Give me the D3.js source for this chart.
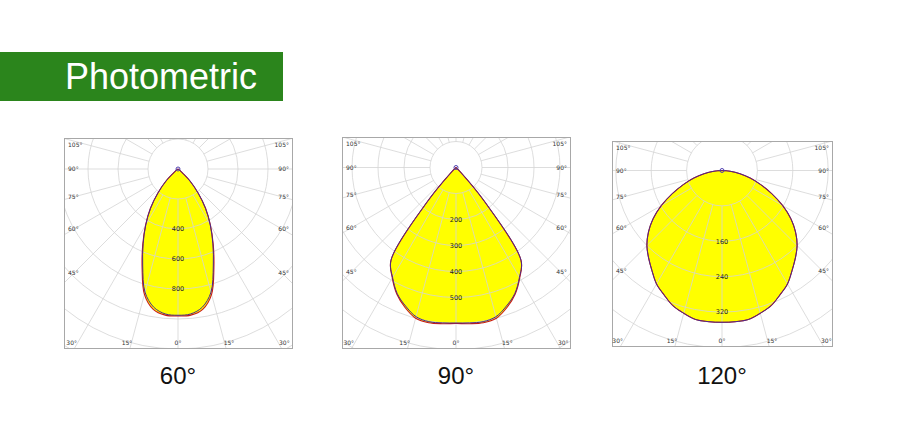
<!DOCTYPE html>
<html>
<head>
<meta charset="utf-8">
<script src="https://cdn.jsdelivr.net/npm/d3@7"></script>
<style>
  body { margin: 0; background: #fff; }
  svg { display: block; }
</style>
</head>
<body>
<div id="chart"></div>
<script>
// gamma angles (deg from nadir), shared by every curve
const angles = [0, 5, 10, 15, 20, 25, 30, 35, 40, 45, 50, 55, 60, 65, 70, 75, 80, 85, 90];

// luminous intensity (cd)
const beam60Red  = [980, 978, 950, 865, 700, 556, 432, 320, 207, 113, 27, 8, 0, 0, 0, 0, 0, 0, 0];
const beam60Blue = [975, 970, 935, 850, 688, 550, 430, 320, 207, 113, 27, 8, 0, 0, 0, 0, 0, 0, 0];
const beam90Red  = [600, 603, 606, 600, 573, 538, 490, 436, 172, 22, 0, 0, 0, 0, 0, 0, 0, 0, 0];
const beam90Blue = [598, 600, 602, 594, 567, 535, 488, 436, 172, 22, 0, 0, 0, 0, 0, 0, 0, 0, 0];
const beam120Red  = [343, 343, 342, 334, 325, 310, 296, 276, 258, 240, 217, 190, 158, 124, 93, 66, 41, 18, 0];
const beam120Blue = [343, 343, 342, 334, 325, 310, 296, 276, 258, 240, 217, 190, 158, 124, 93, 66, 41, 18, 0];

// ring value labels and ring spacing (cd per ring)
const ringLabels60 = [400, 600, 800];
const ringLabels90 = [200, 300, 400, 500];
const ringLabels120 = [160, 240, 320];
const ringSteps = [200, 100, 80];

const sideAngles = [105, 90, 75, 60, 45];
const bottomAngles = [-30, -15, 0, 15, 30];
const beamTitles = ["60°", "90°", "120°"];

const width = 900, height = 433;

const svg = d3.select("#chart").append("svg")
    .attr("width", width)
    .attr("height", height);

// header bar
svg.append("rect")
    .attr("x", 0).attr("y", 52)
    .attr("width", 283).attr("height", 49)
    .attr("fill", "#2b851c");
svg.append("text")
    .attr("x", 65).attr("y", 89)
    .attr("font-family", "Liberation Sans, Arial, sans-serif")
    .attr("font-size", 36)
    .attr("fill", "#fff")
    .text("Photometric");

const panels = [
    { x: 64, y: 138, w: 228, h: 210, cy: 169, ringPx: 30, red: beam60Red, blue: beam60Blue, labels: ringLabels60 },
    { x: 342, y: 137, w: 228, h: 211, cy: 167.5, ringPx: 26, red: beam90Red, blue: beam90Blue, labels: ringLabels90 },
    { x: 612, y: 141, w: 220, h: 205, cy: 170.5, ringPx: 35.4, red: beam120Red, blue: beam120Blue, labels: ringLabels120 }
];

const rad = d => d * Math.PI / 180;

panels.forEach((p, k) => {
    const cx = p.x + p.w / 2;
    const step = ringSteps[k];
    const r = d3.scaleLinear().domain([0, step]).range([0, p.ringPx]);

    const clipId = "clip" + k;
    svg.append("clipPath").attr("id", clipId)
        .append("rect")
        .attr("x", p.x).attr("y", p.y)
        .attr("width", p.w).attr("height", p.h);

    const g = svg.append("g").attr("clip-path", `url(#${clipId})`);
    const c = g.append("g").attr("transform", `translate(${cx},${p.cy})`);

    // polar curve: right half (C0) then mirrored left half (C180)
    function pts(vals) {
        const right = angles.map((a, i) => [Math.PI - rad(a), r(vals[i])]).reverse();
        const left = angles.map((a, i) => [Math.PI + rad(a), r(vals[i])]).slice(1);
        return right.concat(left);
    }
    const line = d3.lineRadial()
        .angle(d => d[0])
        .radius(d => d[1])
        .curve(d3.curveCatmullRomClosed.alpha(0.5));

    [p.red, p.blue].forEach(v => {
        c.append("path").attr("d", line(pts(v))).attr("fill", "#ffff00");
    });

    // grid rings and spokes
    const maxR = 320;
    const rings = d3.range(1, Math.ceil(r.invert(maxR) / step) + 1).map(i => i * step);
    c.selectAll(".ring")
        .data(rings)
        .join("circle")
        .attr("r", d => r(d))
        .attr("fill", "none")
        .attr("stroke", "#d4d4d4")
        .attr("stroke-width", 0.8);

    c.selectAll(".spoke")
        .data(d3.range(0, 360, 15))
        .join("line")
        .attr("x1", d => p.ringPx * Math.sin(rad(d)))
        .attr("y1", d => p.ringPx * Math.cos(rad(d)))
        .attr("x2", d => maxR * Math.sin(rad(d)))
        .attr("y2", d => maxR * Math.cos(rad(d)))
        .attr("stroke", "#d4d4d4")
        .attr("stroke-width", 0.8);

    // outlines
    c.append("path").attr("d", line(pts(p.red)))
        .attr("fill", "none").attr("stroke", "#c81818").attr("stroke-width", 1.1);
    c.append("path").attr("d", line(pts(p.blue)))
        .attr("fill", "none").attr("stroke", "#4a2a8a").attr("stroke-width", 1);

    c.append("circle").attr("r", 2)
        .attr("fill", "none").attr("stroke", "#5040b0").attr("stroke-width", 1);

    // ring value labels
    c.selectAll(".val")
        .data(p.labels)
        .join("text")
        .attr("x", 0)
        .attr("y", d => r(d))
        .attr("dy", "0.35em")
        .attr("text-anchor", "middle")
        .attr("font-family", "DejaVu Sans, sans-serif")
        .attr("font-size", 6.5)
        .attr("fill", "#222")
        .text(d => d);

    // frame
    svg.append("rect")
        .attr("x", p.x + 0.5).attr("y", p.y + 0.5)
        .attr("width", p.w).attr("height", p.h)
        .attr("fill", "none")
        .attr("stroke", "#a8a8a8");

    // angle labels on the sides
    const d = p.w / 2 - 10;
    sideAngles.forEach(a => {
        let y = p.cy + d / Math.tan(rad(a));
        y = Math.max(y, p.y + 7);
        [-1, 1].forEach(s => {
            svg.append("text")
                .attr("x", s < 0 ? p.x + 4 : p.x + p.w - 3)
                .attr("y", y)
                .attr("dy", "0.35em")
                .attr("text-anchor", s < 0 ? "start" : "end")
                .attr("font-family", "DejaVu Sans, sans-serif")
                .attr("font-size", 6)
                .attr("fill", "#333")
                .text(a + "°");
        });
    });

    // angle labels along the bottom
    const dist = p.y + p.h - p.cy;
    bottomAngles.forEach(a => {
        const x = cx + dist * Math.tan(rad(a)) + 3 * Math.sign(a);
        svg.append("text")
            .attr("x", x)
            .attr("y", p.y + p.h - 5)
            .attr("dy", "0.35em")
            .attr("text-anchor", "middle")
            .attr("font-family", "DejaVu Sans, sans-serif")
            .attr("font-size", 6)
            .attr("fill", "#333")
            .text(Math.abs(a) + "°");
    });

    // beam angle caption
    svg.append("text")
        .attr("x", cx)
        .attr("y", 384)
        .attr("text-anchor", "middle")
        .attr("font-family", "Liberation Sans, Arial, sans-serif")
        .attr("font-size", 24)
        .attr("fill", "#111")
        .text(beamTitles[k]);
});
</script>
</body>
</html>
